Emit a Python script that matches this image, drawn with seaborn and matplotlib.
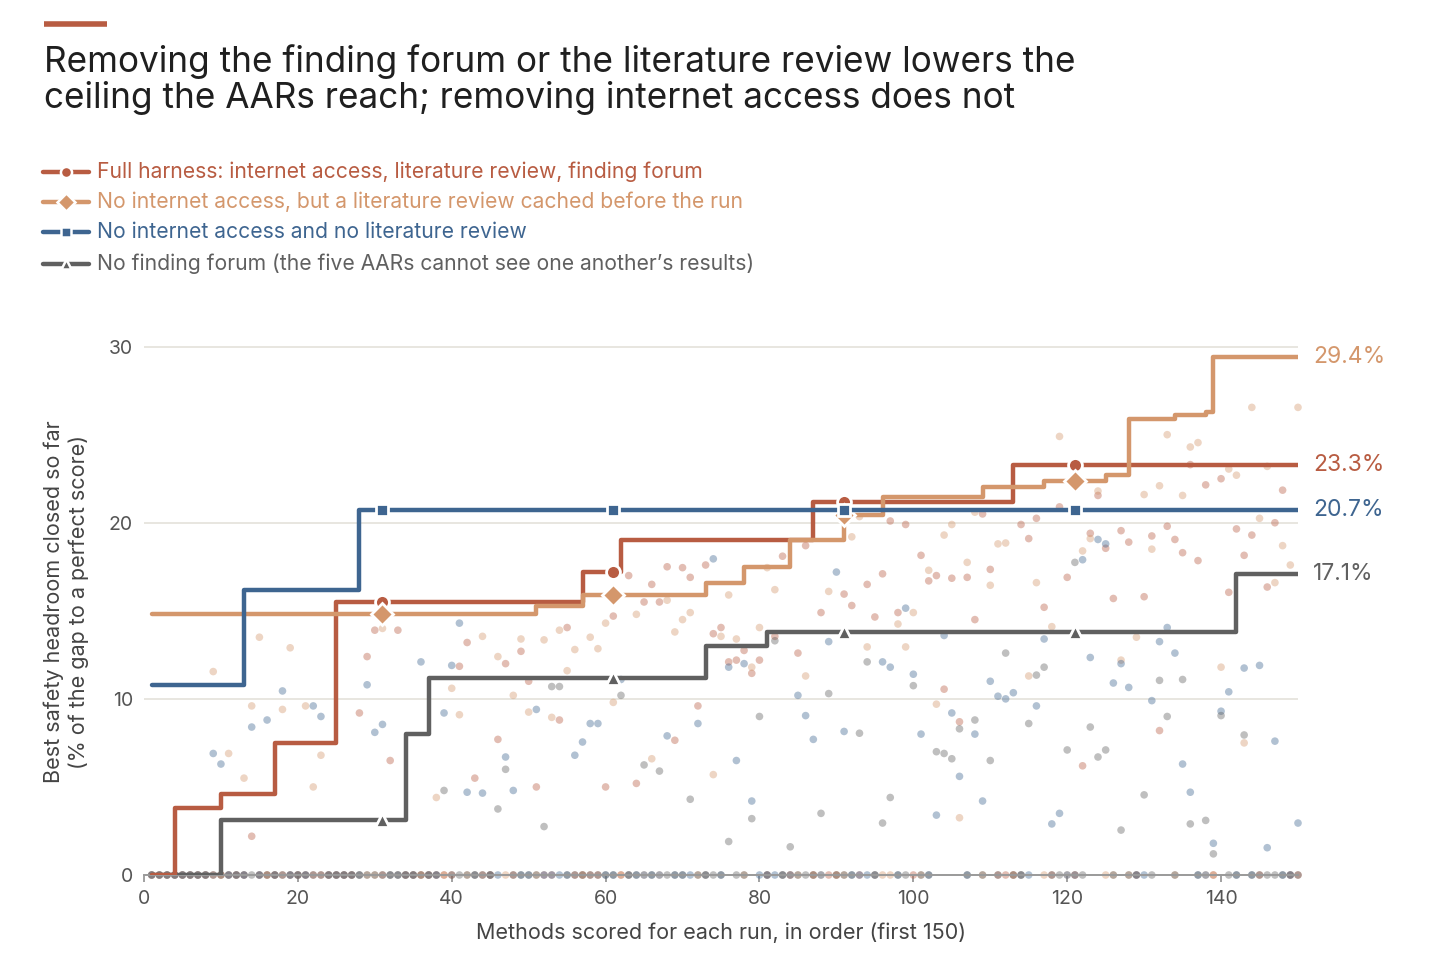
import numpy as np
import pandas as pd
import matplotlib.pyplot as plt
from matplotlib.lines import Line2D
import seaborn as sns

# Series, in legend order
series = ['full', 'cached', 'nolit', 'noforum']
labels = ['Full harness: internet access, literature review, finding forum',
          'No internet access, but a literature review cached before the run',
          'No internet access and no literature review',
          'No finding forum (the five AARs cannot see one another\u2019s results)']
colors = ['#B85C42', '#D4976C', '#3E6590', '#606060']
markers = ['o', 'D', 's', '^']
marker_sizes = [10, 11, 9, 9.5]

# Best score so far: method index where a new best appears, and its value
full_step_x = [1, 4, 10, 17, 25, 57, 62, 87, 113]
full_step_y = [0, 3.8, 4.6, 7.5, 15.5, 17.2, 19.0, 21.15, 23.3]
cached_step_x = [1, 51, 57, 73, 78, 84, 91, 96, 109, 117, 125, 128, 134, 138, 139]
cached_step_y = [14.8, 15.3, 15.9, 16.6, 17.5, 19.0, 20.45, 21.45, 22.05, 22.35, 22.7, 25.9, 26.1, 26.3, 29.4]
nolit_step_x = [1, 13, 28]
nolit_step_y = [10.8, 16.2, 20.7]
noforum_step_x = [1, 10, 34, 37, 73, 81, 142]
noforum_step_y = [0, 3.1, 8.0, 11.2, 13.0, 13.8, 17.1]

# Individual method scores that are not zero (every other method scored 0)
full_dot_x = [14, 28, 29, 30, 32, 33, 41, 42, 43, 46, 47, 49, 50, 51, 54, 55, 60, 61, 63, 64,
              65, 66, 67, 68, 69, 70, 71, 72, 73, 74, 75, 76, 77, 78, 79, 80, 82, 83, 85, 86,
              88, 91, 92, 94, 95, 96, 97, 98, 99, 101, 102, 103, 104, 105, 106, 107, 108, 109, 110, 114,
              115, 116, 117, 119, 120, 122, 123, 124, 125, 126, 127, 128, 130, 131, 132, 133, 134, 135, 136, 137,
              138, 140, 141, 142, 143, 144, 146, 147, 148]
full_dot_y = [2.2, 9.2, 12.4, 13.9, 6.5, 13.9, 11.85, 13.2, 5.5, 7.7, 12.0, 12.7, 11.0, 5.0, 8.8, 14.05, 5.0, 14.7, 17.0, 5.2,
              15.5, 16.5, 15.5, 17.5, 7.65, 17.45, 16.9, 9.6, 17.6, 13.7, 14.05, 12.1, 12.2, 12.75, 11.45, 12.2, 13.55, 18.1, 12.6, 18.7,
              14.9, 15.95, 15.3, 16.5, 14.65, 17.1, 20.1, 14.9, 19.9, 18.15, 16.7, 17.0, 10.55, 16.85, 8.7, 16.9, 14.5, 20.5, 17.35, 19.9,
              19.1, 20.25, 15.2, 20.9, 16.9, 6.2, 19.4, 21.55, 18.55, 15.7, 19.55, 18.9, 15.8, 19.25, 8.2, 19.8, 19.05, 18.3, 23.3, 17.85,
              22.15, 22.5, 16.05, 19.65, 18.15, 19.3, 16.35, 20.0, 21.85]
cached_dot_x = [9, 11, 13, 14, 15, 18, 19, 21, 22, 23, 31, 38, 40, 41, 44, 46, 48, 49, 50, 52,
                53, 54, 55, 56, 58, 59, 60, 61, 64, 66, 68, 69, 70, 71, 74, 75, 76, 77, 79, 80,
                81, 82, 86, 89, 92, 93, 94, 98, 99, 100, 102, 103, 104, 105, 106, 107, 108, 110, 111, 112,
                115, 116, 118, 119, 122, 123, 124, 127, 129, 130, 131, 132, 133, 135, 136, 137, 140, 141, 142, 143,
                144, 145, 146, 147, 148, 149, 150]
cached_dot_y = [11.55, 6.9, 5.5, 9.6, 13.5, 9.4, 12.9, 9.6, 5.0, 6.8, 14.0, 4.4, 10.6, 9.1, 13.55, 12.4, 10.2, 13.4, 9.25, 13.35,
                8.95, 13.9, 11.6, 12.8, 13.5, 12.85, 14.3, 9.8, 14.8, 6.6, 15.6, 13.8, 14.5, 14.9, 5.7, 13.55, 15.9, 13.4, 11.8, 14.05,
                17.45, 16.2, 11.3, 16.1, 19.2, 20.35, 12.95, 14.25, 12.95, 14.9, 17.3, 9.7, 19.3, 19.9, 3.25, 17.75, 20.6, 16.45, 18.8, 18.85,
                11.3, 16.6, 14.1, 24.9, 18.4, 19.1, 21.8, 12.2, 13.5, 21.6, 18.5, 22.1, 25.0, 21.55, 24.3, 24.55, 11.8, 23.05, 22.7, 7.5,
                26.55, 20.25, 23.2, 16.6, 18.7, 17.6, 26.55]
nolit_dot_x = [9, 10, 14, 16, 18, 22, 23, 29, 30, 31, 36, 39, 40, 41, 42, 44, 47, 48, 51, 56,
               57, 58, 59, 62, 68, 72, 74, 76, 77, 78, 79, 85, 86, 87, 89, 90, 91, 96, 97, 99,
               100, 101, 103, 104, 105, 106, 108, 109, 110, 111, 112, 113, 116, 117, 118, 119, 122, 123, 124, 125,
               126, 127, 128, 131, 132, 133, 134, 135, 136, 139, 140, 141, 143, 145, 146, 147, 150]
nolit_dot_y = [6.9, 6.3, 8.4, 8.8, 10.45, 9.6, 9.0, 10.8, 8.1, 8.55, 12.1, 9.2, 11.9, 14.3, 4.7, 4.65, 6.7, 4.8, 9.4, 6.8,
               7.55, 8.6, 8.6, 11.1, 7.9, 8.6, 17.95, 11.8, 6.5, 12.0, 4.2, 10.2, 9.05, 7.7, 13.25, 17.2, 8.15, 12.1, 11.8, 15.15,
               11.4, 8.0, 3.4, 13.6, 9.2, 5.6, 8.0, 4.2, 11.0, 10.15, 10.0, 10.35, 9.6, 13.4, 2.9, 3.5, 17.9, 12.35, 19.05, 18.8,
               10.9, 12.0, 10.65, 9.9, 13.25, 14.05, 12.6, 6.3, 4.7, 1.8, 9.3, 10.4, 11.75, 11.9, 1.55, 7.6, 2.95]
noforum_dot_x = [39, 46, 47, 52, 53, 54, 62, 65, 67, 71, 76, 79, 80, 82, 84, 88, 89, 93, 94, 96,
                 97, 100, 103, 104, 105, 106, 108, 110, 112, 115, 116, 117, 120, 121, 123, 124, 125, 127, 130, 132,
                 133, 135, 136, 138, 139, 140, 143]
noforum_dot_y = [4.8, 3.75, 6.0, 2.75, 10.7, 10.7, 10.2, 6.25, 5.9, 4.3, 1.9, 3.2, 9.0, 13.3, 1.6, 3.5, 10.3, 8.05, 12.1, 2.95,
                 4.4, 10.75, 7.0, 6.9, 6.6, 8.3, 8.8, 6.5, 12.6, 8.6, 11.35, 11.8, 7.1, 17.75, 8.4, 6.7, 7.1, 2.55, 4.55, 11.05,
                 9.0, 11.1, 2.9, 3.1, 1.2, 9.05, 7.95]

n_methods = 150
marker_at = [31, 61, 91, 121]

steps = {'full': (full_step_x, full_step_y), 'cached': (cached_step_x, cached_step_y),
         'nolit': (nolit_step_x, nolit_step_y), 'noforum': (noforum_step_x, noforum_step_y)}
dots_in = {'full': (full_dot_x, full_dot_y), 'cached': (cached_dot_x, cached_dot_y),
           'nolit': (nolit_dot_x, nolit_dot_y), 'noforum': (noforum_dot_x, noforum_dot_y)}

# Long table of every scored method
methods = np.arange(1, n_methods + 1)
frames = []
for name in series:
    score = pd.Series(0.0, index=methods)
    score.loc[dots_in[name][0]] = dots_in[name][1]
    frames.append(pd.DataFrame({'method': methods, 'score': score.values, 'series': name}))
dots = pd.concat(frames, ignore_index=True)

sns.set_theme(style='white')
plt.rcParams['font.family'] = ['Inter', 'DejaVu Sans']

fig = plt.figure(figsize=(14.4, 9.67), dpi=100)
ax = fig.add_axes([144 / 1440, 92 / 967, (1298 - 144) / 1440, (875 - 329) / 967])

palette = dict(zip(series, colors))
sns.scatterplot(data=dots, x='method', y='score', hue='series', palette=palette,
                s=30, alpha=0.4, linewidth=0, legend=False, ax=ax, clip_on=False, zorder=2)

line_order = ['noforum', 'full', 'cached', 'nolit']
for z, name in enumerate(line_order):
    i = series.index(name)
    sx, sy = steps[name]
    xs = sx + [n_methods]
    ys = sy + [sy[-1]]
    sns.lineplot(x=xs, y=ys, drawstyle='steps-post', estimator=None, sort=False,
                 color=colors[i], linewidth=3.2, ax=ax, zorder=4 + z,
                 solid_capstyle='round')
    mv = [sy[np.searchsorted(sx, m, side='right') - 1] for m in marker_at]
    ax.plot(marker_at, mv, ls='none', marker=markers[i], ms=marker_sizes[i],
            mfc=colors[i], mec='white', mew=2, zorder=4 + z)
    ax.annotate(f'{sy[-1]:.1f}%', xy=(n_methods, sy[-1]), xytext=(11, 0),
                textcoords='offset points', va='center', ha='left',
                fontsize=16.5, color=colors[i], annotation_clip=False)

ax.set_xlim(0, 150)
ax.set_ylim(0, 31)
ax.set_xticks(range(0, 141, 20))
ax.set_yticks([0, 10, 20, 30])
ax.yaxis.grid(True, color='#e8e6e0', linewidth=1.4)
ax.set_axisbelow(True)
for side in ['top', 'right', 'left']:
    ax.spines[side].set_visible(False)
ax.spines['bottom'].set_color('#9a9a9a')
ax.spines['bottom'].set_linewidth(1.4)
ax.tick_params(axis='x', length=5, width=1.3, color='#9a9a9a', labelsize=14,
               labelcolor='#555555', pad=6, direction='out', bottom=True)
ax.tick_params(axis='y', length=0, labelsize=14, labelcolor='#555555', pad=8)
ax.set_xlabel('Methods scored for each run, in order (first 150)', fontsize=15.5,
              color='#444444', labelpad=10)
ax.set_ylabel('Best safety headroom closed so far\n(% of the gap to a perfect score)',
              fontsize=15.5, color='#444444', labelpad=14, linespacing=1.3)

# Title block
fig.add_artist(Line2D([44 / 1440, 107 / 1440], [1 - 24 / 967, 1 - 24 / 967],
                      color=colors[0], linewidth=4, solid_capstyle='butt'))
fig.text(44 / 1440, 1 - 72 / 967, 'Removing the finding forum or the literature review lowers the',
         fontsize=25.3, color='#1f1f1f', va='baseline')
fig.text(44 / 1440, 1 - 108 / 967, 'ceiling the AARs reach; removing internet access does not',
         fontsize=25.3, color='#1f1f1f', va='baseline')

# Legend
legend_y = [172, 202, 232, 264]
for i, name in enumerate(series):
    yy = 1 - legend_y[i] / 967
    fig.add_artist(Line2D([43 / 1440, 89 / 1440], [yy, yy], color=colors[i],
                          linewidth=3.2, solid_capstyle='round'))
    fig.add_artist(Line2D([66 / 1440], [yy], ls='none', marker=markers[i],
                          ms=marker_sizes[i] * 0.8, mfc=colors[i], mec='white', mew=1.8))
    fig.text(97 / 1440, yy, labels[i], fontsize=15.2, color=colors[i], va='center')

fig.savefig('out.png', dpi=100)
